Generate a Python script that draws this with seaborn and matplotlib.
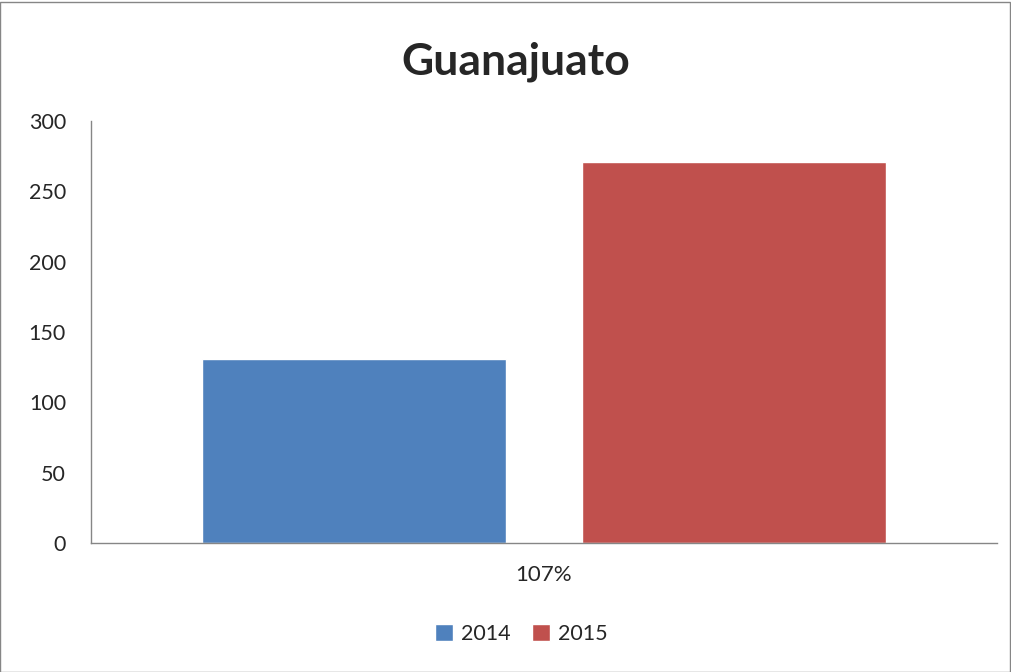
import matplotlib
matplotlib.use('Agg')
import matplotlib.pyplot as plt
import seaborn as sns
import pandas as pd
from matplotlib.patches import Rectangle

# data
categories = ['107%']
years = ['2014', '2015']
values = [131, 271]
colors = ['#4f81bd', '#c0504d']

df = pd.DataFrame({'cat': categories * len(years), 'year': years, 'value': values})

sns.set_style('white')
plt.rcParams['font.family'] = ['Lato', 'DejaVu Sans']

fig = plt.figure(figsize=(10.12, 6.72), dpi=100)
ax = fig.add_axes([91 / 1012, 1 - 543 / 672, 906 / 1012, 422 / 672])

sns.barplot(data=df, x='cat', y='value', hue='year', palette=colors,
            width=0.84, gap=0.2, ax=ax, saturation=1)

ax.set_ylim(0, 300)
ax.set_xlim(-0.5, 0.5)
ax.set_yticks(range(0, 301, 50))
ax.set_xlabel('')
ax.set_ylabel('')
ax.tick_params(axis='y', labelsize=15.5, length=0, pad=18)
ax.tick_params(axis='x', labelsize=16, length=0, pad=16)
for lab in ax.get_yticklabels():
    lab.set_horizontalalignment('right')
sns.despine(ax=ax, top=True, right=True)
for s in ['left', 'bottom']:
    ax.spines[s].set_color('#868686')
    ax.spines[s].set_linewidth(1)

ax.legend(loc='center', bbox_to_anchor=(0.475, -0.215), ncol=2, frameon=False,
          fontsize=15.5, handlelength=0.85, handleheight=0.85, handletextpad=0.35,
          columnspacing=1.0)

fig.text(0.51, 1 - 62 / 672, 'Guanajuato', ha='center', va='center',
         fontsize=32, fontweight='bold')

fig.patches.append(Rectangle((0.5 / 1012, 0.5 / 672), 1010 / 1012, 670 / 672,
                             transform=fig.transFigure, fill=False,
                             edgecolor='#868686', linewidth=1))

fig.savefig('out.png', dpi=100)
